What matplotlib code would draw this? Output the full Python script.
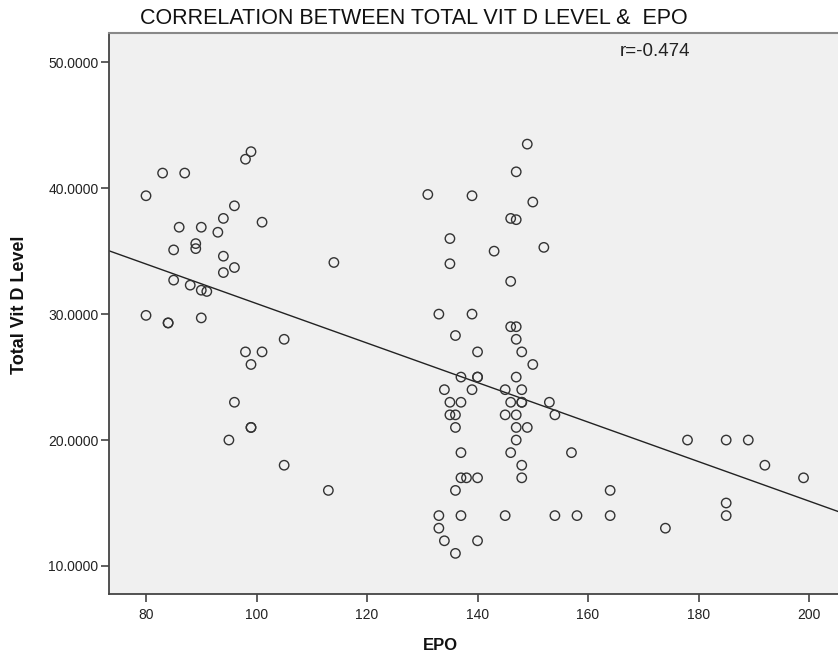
import numpy as np
import matplotlib
matplotlib.use("Agg")
import matplotlib.pyplot as plt
from matplotlib.ticker import FormatStrFormatter

plt.rcParams['font.family'] = ['Liberation Sans', 'DejaVu Sans']

# EPO values and total vitamin D level
epo = [99, 98, 83, 87, 80, 96, 94, 101, 86, 90, 93, 89, 89, 85, 114, 94, 96, 94,
       85, 88, 90, 91, 80, 84, 84, 90, 105, 98, 101, 99, 96, 99, 99, 95, 105, 113,
       149, 147, 131, 139, 150, 146, 147, 135, 143, 152, 135, 146, 133, 139, 146,
       147, 136, 147, 140, 148, 150, 137, 140, 140, 147, 134, 139, 145, 148, 135,
       137, 146, 148, 148, 153, 135, 136, 145, 147, 154, 136, 147, 149, 147, 137,
       146, 157, 148, 137, 138, 140, 148, 136, 133, 137, 145, 154, 158, 133, 134,
       140, 136,
       164, 164, 174, 178, 185, 189, 192, 199, 185, 185]
vitd = [42.9, 42.3, 41.2, 41.2, 39.4, 38.6, 37.6, 37.3, 36.9, 36.9, 36.5, 35.6,
        35.2, 35.1, 34.1, 34.6, 33.7, 33.3, 32.7, 32.3, 31.9, 31.8, 29.9, 29.3,
        29.3, 29.7, 28.0, 27.0, 27.0, 26.0, 23.0, 21.0, 21.0, 20.0, 18.0, 16.0,
        43.5, 41.3, 39.5, 39.4, 38.9, 37.6, 37.5, 36.0, 35.0, 35.3, 34.0, 32.6,
        30.0, 30.0, 29.0, 29.0, 28.3, 28.0, 27.0, 27.0, 26.0, 25.0, 25.0, 25.0,
        25.0, 24.0, 24.0, 24.0, 24.0, 23.0, 23.0, 23.0, 23.0, 23.0, 23.0, 22.0,
        22.0, 22.0, 22.0, 22.0, 21.0, 21.0, 21.0, 20.0, 19.0, 19.0, 19.0, 18.0,
        17.0, 17.0, 17.0, 17.0, 16.0, 14.0, 14.0, 14.0, 14.0, 14.0, 13.0, 12.0,
        12.0, 11.0,
        16.0, 14.0, 13.0, 20.0, 20.0, 20.0, 18.0, 17.0, 15.0, 14.0]

x_ticks = [80, 100, 120, 140, 160, 180, 200]
y_ticks = [10, 20, 30, 40, 50]

x = np.array(epo, dtype=float)
y = np.array(vitd, dtype=float)
slope, intercept = np.polyfit(x, y, 1)

W, H = 838, 660
fig = plt.figure(figsize=(W / 100, H / 100), dpi=100)
fig.patch.set_facecolor('white')
left, right, top, bottom = 109, 840, 33.3, 594.3
ax = fig.add_axes([left / W, 1 - bottom / H, (right - left) / W, (bottom - top) / H])
ax.set_facecolor('#f0f0f0')

xmin, xmax = 73.3, 205.6
ax.set_xlim(xmin, xmax)
ax.set_ylim(7.75, 52.3)

ax.scatter(x, y, s=46, facecolors='none', edgecolors='#333333', linewidths=1.0, zorder=3)

# least squares fit line
xl = np.array([xmin, xmax])
ax.plot(xl, slope * xl + intercept, color='#222222', lw=1.0, zorder=2)

ax.set_xticks(x_ticks)
ax.set_yticks(y_ticks)
ax.yaxis.set_major_formatter(FormatStrFormatter('%.4f'))
ax.tick_params(direction='out', length=6, width=1.2, color='#444444',
               labelsize=10, labelcolor='#222222')
ax.tick_params(axis='x', pad=4)
ax.tick_params(axis='y', pad=1.5)

for side in ['left', 'bottom']:
    ax.spines[side].set_color('#444444')
    ax.spines[side].set_linewidth(1.3)
ax.spines['top'].set_color('#888888')
ax.spines['top'].set_linewidth(1.5)
ax.spines['right'].set_visible(False)

fig.text(620 / W, 1 - 51 / H, 'r=-0.474', fontsize=13.5, color='#222222',
         ha='left', va='center')

fig.text(140 / W, 1 - 24 / H, 'CORRELATION BETWEEN TOTAL VIT D LEVEL &  EPO',
         fontsize=15.5, color='#111111', ha='left', va='baseline')
fig.text(440 / W, 1 - 645 / H, 'EPO', fontsize=12, fontweight='bold',
         color='#111111', ha='center', va='center')
fig.text(20 / W, 1 - 305 / H, 'Total Vit D Level', fontsize=13, fontweight='bold',
         color='#111111', ha='center', va='center', rotation=90)

fig.savefig('out.png', dpi=100)
